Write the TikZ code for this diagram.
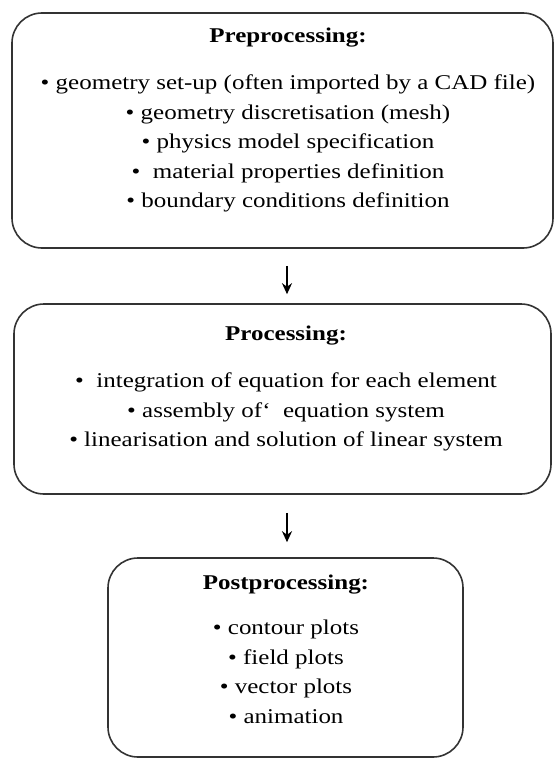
\documentclass[tikz,border=0pt]{standalone}
\usepackage{fontspec}
\setmainfont{Liberation Serif}[FakeStretch=1.19]
\usetikzlibrary{positioning,arrows.meta}

\tikzset{
  stage/.style={draw=black!80, line width=1.6pt, rounded corners=30pt, inner sep=0pt},
  stagetext/.style={anchor=north, align=center, inner sep=0pt,
    font=\fontsize{21}{29.5}\selectfont},
  flow/.style={-{Stealth[length=11pt,width=10pt]}, line width=2pt},
}

\begin{document}
\begin{tikzpicture}[x=1pt,y=-1pt]
\useasboundingbox (0,0) rectangle (554,759);
% boxes
\node[stage, minimum width=541pt, minimum height=235pt] (pre) at (282.5,130.5) {};
\node[stage, minimum width=537pt, minimum height=190pt] (proc) at (282.5,399) {};
\node[stage, minimum width=355pt, minimum height=199pt] (post) at (285.5,657.5) {};
% texts
\node[stagetext] (pretext) at (288,28) {\textbf{Preprocessing:}\\[17.5pt]
  • geometry set-up (often imported by a CAD file)\\
  • geometry discretisation (mesh)\\
  • physics model specification\\
  •\ \ material properties definition\\
  • boundary conditions definition};
\node[stagetext] (proctext) at (286,326) {\textbf{Processing:}\\[17.5pt]
  •\ \ integration of equation for each element\\
  • assembly of‘\ \ equation system\\
  • linearisation and solution of linear system};
\node[stagetext] (posttext) at (286,575) {\textbf{Postprocessing:}\\[15.5pt]
  • contour plots\\
  • field plots\\
  • vector plots\\
  • animation};
% arrows
\draw[flow] ([xshift=4.5pt,yshift=-17pt]pre.south) -- ([xshift=4.5pt,yshift=9pt]proc.north);
\draw[flow] ([xshift=4.5pt,yshift=-18pt]proc.south) -- ([xshift=1.5pt,yshift=15pt]post.north);
\end{tikzpicture}
\end{document}
